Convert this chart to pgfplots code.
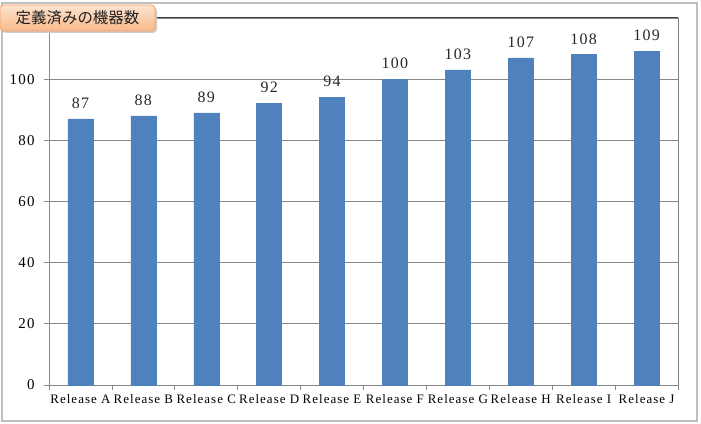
\documentclass[border=0pt]{standalone}
\usepackage{pgfplots}
\pgfplotsset{compat=1.18}
\usepackage{fontspec}
\setmainfont{Liberation Serif}
\newfontfamily\cjk{Noto Sans CJK JP}
\newfontfamily\lsp[LetterSpace=8]{Liberation Serif}
\definecolor{barblue}{HTML}{4F81BD}
\definecolor{gridgray}{HTML}{878787}
\definecolor{framegray}{HTML}{BFBFBF}
\definecolor{boxtop}{HTML}{FDE4D0}
\definecolor{boxbot}{HTML}{F9B98A}
\definecolor{boxedge}{HTML}{F2A46C}
\begin{document}
\begin{tikzpicture}[x=1bp,y=1bp]
\useasboundingbox (0,0) rectangle (701,423);
\draw[color=framegray, line width=1.5bp] (2,2) rectangle (697,420);
\begin{axis}[
  at={(49bp,38bp)}, anchor=south west,
  scale only axis, width=629bp, height=367bp,
  xmin=-0.5, xmax=9.5, ymin=0, ymax=120,
  ybar, bar width=25bp,
  axis line style={gridgray, line width=0.8bp},
  xtick={-0.5,0.5,...,9.5},
  xticklabels={},
  major x tick style={draw=gridgray, line width=0.8bp},
  extra x ticks={0,...,9},
  extra x tick labels={Release A,Release B,Release C,Release D,Release E,Release F,Release G,Release H,Release I,Release J},
  extra x tick style={major tick length=0pt, major x tick style={draw=none}},
  xtick pos=bottom, ytick pos=left,
  ytick={0,20,...,100},
  ymajorgrids, grid style={gridgray, line width=0.8bp},
  tick align=outside, major tick length=5bp,
  major y tick style={gridgray, line width=0.8bp},
  /pgf/number format/assume math mode=true,
  xticklabel style={font=\lsp\fontsize{13}{13}\selectfont, yshift=-6bp},
  yticklabel style={font=\lsp\fontsize{15}{15}\selectfont, xshift=-6bp},
  nodes near coords,
  every node near coord/.append style={font=\lsp\fontsize{16}{16}\selectfont, color=black!85, yshift=7bp},
]
\addplot[fill=barblue, draw=barblue] coordinates {
(0,87) (1,88) (2,89) (3,92) (4,94) (5,100) (6,103) (7,107) (8,108) (9,109)};
\draw[black!75, line width=1bp] (rel axis cs:0,1) -- (rel axis cs:1,1) -- (rel axis cs:1,0);
\end{axis}
\fill[black!20, rounded corners=4bp] (2,390) rectangle (157,416);
\shade[top color=boxtop, bottom color=boxbot, rounded corners=4bp] (0,392) rectangle (155,418);
\draw[boxedge, line width=0.8bp, rounded corners=4bp] (0,392) rectangle (155,418);
\node[font=\cjk\fontsize{15.5}{15.5}\selectfont, color=black!88] at (77.5,405) {定義済みの機器数};
\end{tikzpicture}
\end{document}
